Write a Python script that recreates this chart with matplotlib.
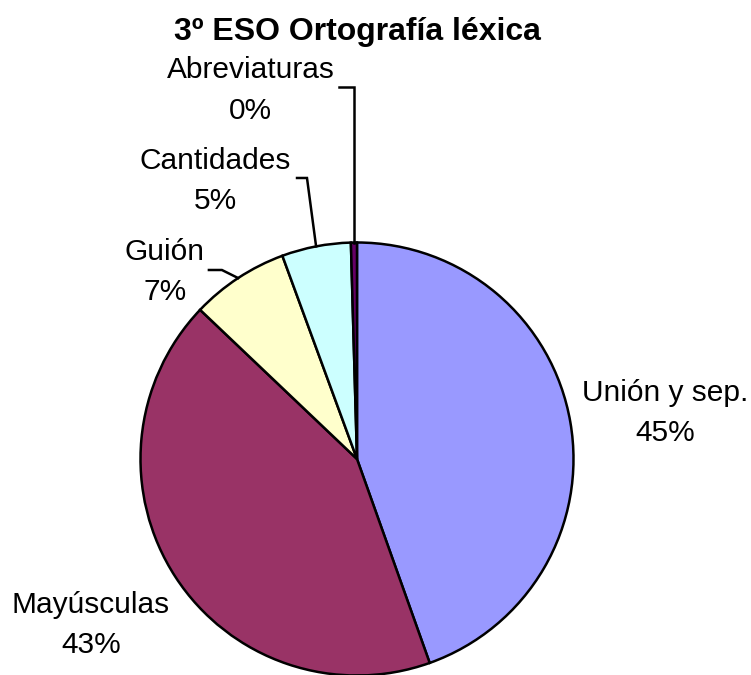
import matplotlib
matplotlib.use("Agg")
import matplotlib.pyplot as plt
import numpy as np

title = "3º ESO Ortografía léxica"
categories = ["Unión y sep.", "Mayúsculas", "Guión", "Cantidades", "Abreviaturas"]
values = [44.55, 42.55, 7.30, 5.15, 0.45]
colors = ["#9999FF", "#993366", "#FFFFCC", "#CCFFFF", "#660066"]

# label block centres (data units, pie radius = 1)
label_pos = {
    "Unión y sep.": (1.423, 0.212),
    "Mayúsculas": (-1.229, -0.765),
    "Guión": (-0.887, 0.862),
    "Cantidades": (-0.656, 1.285),
    "Abreviaturas": (-0.490, 1.702),
}
# leader line elbow and end points for the small slices
leaders = {
    "Guión": [(-0.624, 0.873), (-0.684, 0.873)],
    "Cantidades": [(-0.231, 1.298), (-0.277, 1.298)],
    "Abreviaturas": [(None, 1.718), (-0.083, 1.718)],
}

plt.rcParams["font.family"] = ["Liberation Sans", "DejaVu Sans"]

W, H = 751, 675
fig = plt.figure(figsize=(W / 100, H / 100), dpi=100)
R = 216.5
cx, cy = 357, 459
ax = fig.add_axes([(cx - R) / W, (H - (cy + R)) / H, 2 * R / W, 2 * R / H])

wedges, _ = ax.pie(values, colors=colors, startangle=90, counterclock=False,
                   radius=1, wedgeprops=dict(edgecolor="black", linewidth=1.8),
                   normalize=True)
ax.set_xlim(-1, 1)
ax.set_ylim(-1, 1)
ax.set_aspect("equal")
ax.axis("off")
for w in wedges:
    w.set_clip_on(False)

total = sum(values)
fs = 21.5
for w, cat, v in zip(wedges, categories, values):
    pct = 100 * v / total
    lx, ly = label_pos[cat]
    ax.text(lx, ly, f"{cat}\n{pct:.0f}%", ha="center", va="center",
            fontsize=fs, linespacing=1.55, clip_on=False)
    if cat in leaders:
        mid = np.deg2rad((w.theta1 + w.theta2) / 2)
        rx, ry = np.cos(mid), np.sin(mid)
        (ex, ey), (tx, ty) = leaders[cat]
        if ex is None:
            ex = rx
        ax.plot([rx, ex, tx], [ry, ey, ty], color="black", lw=1.8,
                clip_on=False, solid_joinstyle="miter")

fig.text(cx / W, 1 - 32 / H, title, ha="center", va="center",
         fontsize=23, fontweight="bold")

fig.savefig("out.png", dpi=100)
